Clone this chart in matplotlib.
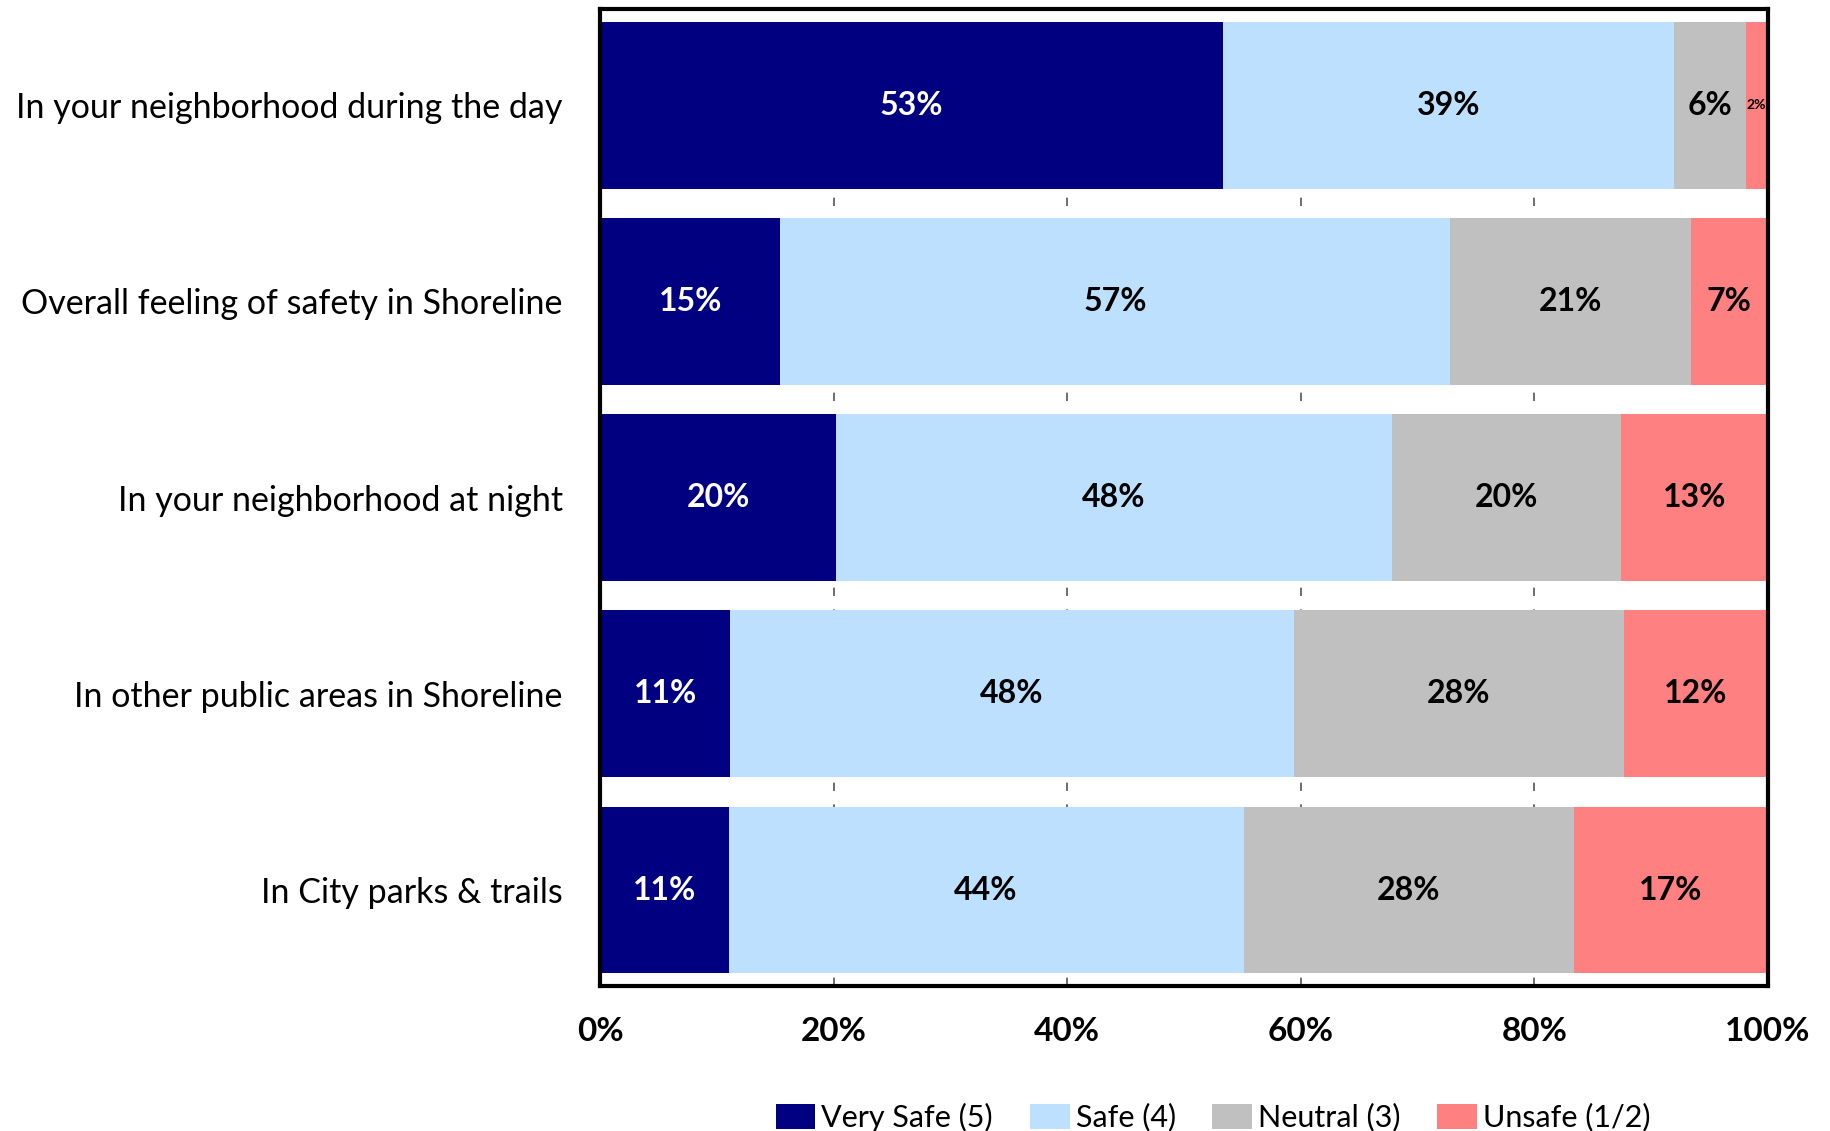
import matplotlib.pyplot as plt
import numpy as np

plt.rcParams['font.family'] = ['Lato', 'DejaVu Sans']

categories = ['In your neighborhood during the day',
              'Overall feeling of safety in Shoreline',
              'In your neighborhood at night',
              'In other public areas in Shoreline',
              'In City parks & trails']

very_safe = [53.3, 15.4, 20.2, 11.1, 11.0]
safe = [38.7, 57.4, 47.6, 48.3, 44.1]
neutral = [6.1, 20.6, 19.6, 28.3, 28.3]
unsafe = [1.9, 6.6, 12.6, 12.3, 16.6]

series = [('Very Safe (5)', very_safe, '#000080', 'white'),
          ('Safe (4)', safe, '#BDE0FE', 'black'),
          ('Neutral (3)', neutral, '#C0C0C0', 'black'),
          ('Unsafe (1/2)', unsafe, '#FF8080', 'black')]

fig = plt.figure(figsize=(18.3, 11.31), dpi=100)
ax = fig.add_axes([0.328, 0.128, 0.638, 0.864])

y = np.arange(len(categories))
left = np.zeros(len(categories))
for name, vals, col, tcol in series:
    vals = np.array(vals)
    ax.barh(y, vals, left=left, height=0.85, color=col, label=name, zorder=2)
    for yi, l, v in zip(y, left, vals):
        fs = 23 if v >= 4 else 10
        ax.text(l + v / 2, yi, f'{v:.0f}%', ha='center', va='center',
                color=tcol, fontsize=fs, fontweight='bold', zorder=3)
    left += vals

ax.set_xlim(0, 100)
ax.set_ylim(4.49, -0.49)
ax.set_yticks(y)
ax.set_yticklabels(categories, fontsize=24.5)
ax.set_xticks([0, 20, 40, 60, 80, 100])
ax.set_xticklabels(['0%', '20%', '40%', '60%', '80%', '100%'],
                   fontsize=24, fontweight='bold')
ax.tick_params(axis='both', length=0, pad=22)
ax.tick_params(axis='y', pad=27)
ax.xaxis.grid(True, linestyle=(0, (5, 8)), color='#555555', linewidth=1.2, zorder=0)
ax.set_axisbelow(True)
for s in ax.spines.values():
    s.set_linewidth(3)

ax.legend(loc='center', bbox_to_anchor=(0.525, -0.134), ncol=4, frameon=False,
          fontsize=22, handlelength=1.3, handleheight=0.9, handletextpad=0.2,
          columnspacing=1.2)

fig.savefig('out.png', dpi=100)
